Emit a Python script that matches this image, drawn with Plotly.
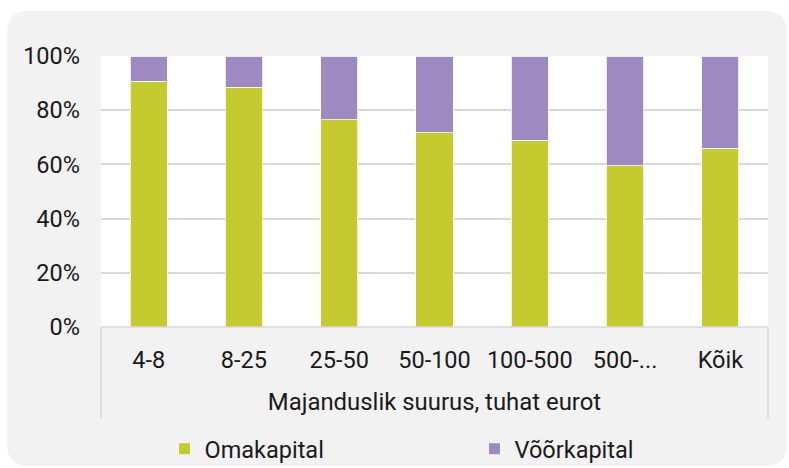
import plotly.graph_objects as go

categories = ["4-8", "8-25", "25-50", "50-100", "100-500", "500-...", "Kõik"]
omakapital = [90.7, 88.4, 76.4, 71.7, 68.9, 59.5, 65.9]
voorkapital = [100 - v for v in omakapital]
y_ticks = [0, 20, 40, 60, 80, 100]
y_labels = [f"{v}%" for v in y_ticks]

GREEN = "#c5cb2f"
PURPLE = "#9e8ac0"
GRID = "#d9d9d9"
PANEL = "#f2f2f2"

W, H = 789, 468
L, R, T, B = 101, 21, 56, 141
pw, ph = W - L - R, H - T - B


def px_x(x):
    return (x - L) / pw


def px_y(y):
    return (H - B - y) / ph


def rounded_rect(x0, y0, x1, y1, r):
    # pixel coords -> paper path with rounded corners
    rx, ry = r / pw, r / ph
    a, b, c, d = px_x(x0), px_y(y1), px_x(x1), px_y(y0)  # left, bottom, right, top
    return (f"M {a + rx},{d} L {c - rx},{d} Q {c},{d} {c},{d - ry} "
            f"L {c},{b + ry} Q {c},{b} {c - rx},{b} "
            f"L {a + rx},{b} Q {a},{b} {a},{b + ry} "
            f"L {a},{d - ry} Q {a},{d} {a + rx},{d} Z")


fig = go.Figure()
fig.add_trace(go.Bar(x=categories, y=omakapital, name="Omakapital",
                     marker=dict(color=GREEN, line=dict(color="white", width=0.8))))
fig.add_trace(go.Bar(x=categories, y=voorkapital, name="Võõrkapital",
                     marker=dict(color=PURPLE, line=dict(color="white", width=0.8))))

shapes = [
    # grey rounded panel
    dict(type="path", xref="paper", yref="paper", layer="below",
         path=rounded_rect(7, 11, 787, 466, 22), fillcolor=PANEL, line=dict(width=0)),
    # white plot area
    dict(type="rect", xref="paper", yref="paper", layer="below",
         x0=0, x1=1, y0=0, y1=1, fillcolor="white", line=dict(width=0)),
    # category axis box lines
    dict(type="line", xref="paper", yref="paper", x0=0, x1=0, y0=0, y1=px_y(418),
         line=dict(color=GRID, width=1.5)),
    dict(type="line", xref="paper", yref="paper", x0=1, x1=1, y0=0, y1=px_y(418),
         line=dict(color=GRID, width=1.5)),
    dict(type="line", xref="paper", yref="paper", x0=0, x1=1, y0=0, y1=0,
         line=dict(color=GRID, width=1.5)),
]

fig.update_layout(
    width=W, height=H,
    barmode="stack",
    bargap=0.61,
    paper_bgcolor="white",
    plot_bgcolor="rgba(0,0,0,0)",
    margin=dict(l=L, r=R, t=T, b=B, pad=0, autoexpand=False),
    font=dict(family="Roboto", size=23.5, color="#1a1a1a"),
    shapes=shapes,
    xaxis=dict(
        showgrid=False, showline=False, ticks="",
        ticklabelstandoff=16,
        title=dict(text="Majanduslik suurus, tuhat eurot", standoff=20,
                   font=dict(size=23.9)),
    ),
    yaxis=dict(
        range=[0, 100], tickmode="array", tickvals=y_ticks, ticktext=y_labels,
        showgrid=True, gridcolor=GRID, gridwidth=1.5,
        zeroline=False, showline=False, ticklabelstandoff=20,
    ),
    legend=dict(orientation="h", x=0.56, xanchor="center", y=px_y(449), yanchor="middle",
                entrywidth=265, bgcolor="rgba(0,0,0,0)", traceorder="normal",
                font=dict(size=23.5)),
)

fig.write_html("out.html", config={"displayModeBar": False},
               post_script="document.body.style.margin='0';")
